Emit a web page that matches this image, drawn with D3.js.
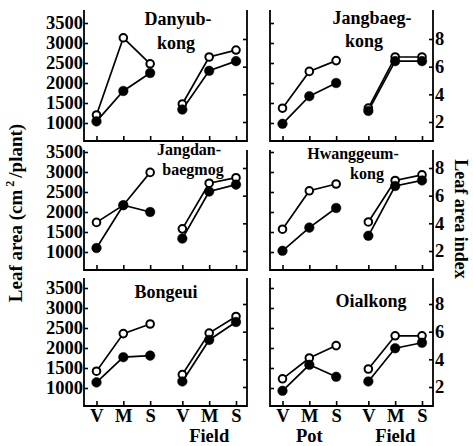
<!DOCTYPE html>
<html>
<head>
  <meta charset="utf-8">
  <title>Leaf area by growth stage</title>
  <script src="https://d3js.org/d3.v7.min.js"></script>
  <style>
    body { margin: 0; background: #fff; }
    text { font-family: "Liberation Serif", "Times New Roman", serif; font-weight: bold; fill: #000; }
  </style>
</head>
<body>
<script>
// six varieties, each with Pot (cm2/plant) and Field (LAI) at V, M, S
var titleLines = [["Danyub-", "kong"], ["Jangbaeg-", "kong"], ["Jangdan-", "baegmog"],
                  ["Hwanggeum-", "kong"], ["Bongeui"], ["Oialkong"]];
var stages = ["V", "M", "S"];
var groups = ["Pot", "Field"];

var potOpen   = [[1200, 3130, 2480], [1370, 2290, 2560], [1740, 2170, 2990],
                 [1570, 2530, 2700], [1420, 2360, 2600], [1230, 1750, 2060]];
var potFilled = [[1040, 1800, 2250], [980, 1670, 2000], [1100, 2170, 2000],
                 [1030, 1610, 2100], [1140, 1770, 1810], [930, 1580, 1280]];
var fieldOpen   = [[3.3, 6.7, 7.2], [3.0, 6.7, 6.7], [3.6, 6.9, 7.3],
                   [4.1, 7.1, 7.5], [2.9, 5.9, 7.1], [3.3, 5.7, 5.7]];
var fieldFilled = [[2.9, 5.7, 6.4], [2.8, 6.4, 6.4], [2.9, 6.3, 6.8],
                   [3.1, 6.7, 7.1], [2.4, 5.4, 6.7], [2.4, 4.8, 5.2]];

var areaTicks = [1000, 1500, 2000, 2500, 3000, 3500];
var laiTicks = [2, 4, 6, 8];

var width = 473, height = 446;
var colLeft = [84, 270], panelW = 163;
var rowTop = [10, 150, 278], rowBottom = [141, 270, 406];
var groupGap = 0.2;

// title line positions inside each panel: [x, baseline] per line, plus font size
var titlePos = [[[94, 25], [92, 49]], [[102, 24], [94, 47]], [[105, 155], [109, 175]],
                [[83, 159], [97, 179]], [[82, 298]], [[101, 307]]];
var titleSize = [18, 18, 16, 16, 18, 18];

var svg = d3.select('body').append('svg').attr('width', width).attr('height', height);

var x = d3.scaleLinear().domain([0, 5.2]).range([12.5, 152]);
function xPos(g, s) { return x(g * (stages.length + groupGap) + s); }

titleLines.forEach(function(lines, p) {
  var col = p % 2, row = Math.floor(p / 2);
  var x0 = colLeft[col], top = rowTop[row], bot = rowBottom[row];
  var yArea = d3.scaleLinear().domain([1000, 3500]).range([bot - 18, bot - 118]);
  var yLai = d3.scaleLinear().domain([2, 8]).range([bot - 19, bot - 102]);

  var g = svg.append('g').attr('transform', 'translate(' + x0 + ',0)');

  // frame: left, bottom, right (no top)
  g.append('path')
    .attr('d', 'M0,' + top + 'V' + bot + 'H' + panelW + 'V' + top)
    .attr('fill', 'none').attr('stroke', '#000').attr('stroke-width', 1.8);

  var la = g.append('g').call(d3.axisLeft(yArea).tickValues(areaTicks).tickSize(-4).tickPadding(1)
    .tickFormat(col === 0 ? d3.format('d') : function() { return ''; }));
  la.select('.domain').remove();

  var ra = g.append('g').attr('transform', 'translate(' + panelW + ',0)')
    .call(d3.axisRight(yLai).tickValues(laiTicks).tickSize(-4).tickPadding(2)
    .tickFormat(col === 1 ? d3.format('d') : function() { return ''; }));
  ra.select('.domain').remove();

  var tickVals = [], tickLab = [];
  groups.forEach(function(gr, gi) {
    stages.forEach(function(s, si) { tickVals.push(gi * (stages.length + groupGap) + si); tickLab.push(s); });
  });
  var ba = g.append('g').attr('transform', 'translate(0,' + bot + ')')
    .call(d3.axisBottom(x).tickValues(tickVals).tickSize(-5).tickPadding(3)
    .tickFormat(function(d, i) { return row === 2 ? tickLab[i] : ''; }));
  ba.select('.domain').remove();

  svg.selectAll('.tick line').attr('stroke', '#000').attr('stroke-width', 1.6);
  g.selectAll('.tick text').attr('font-size', 18.5).attr('font-family', null);

  // series
  var series = [
    { vals: potOpen[p], g: 0, y: yArea, open: true },
    { vals: potFilled[p], g: 0, y: yArea, open: false },
    { vals: fieldOpen[p], g: 1, y: yLai, open: true },
    { vals: fieldFilled[p], g: 1, y: yLai, open: false }
  ];
  series.forEach(function(sr) {
    var line = d3.line().x(function(d, i) { return xPos(sr.g, i); }).y(function(d) { return sr.y(d); });
    g.append('path').datum(sr.vals).attr('d', line)
      .attr('fill', 'none').attr('stroke', '#000').attr('stroke-width', 1.7);
  });
  series.forEach(function(sr) {
    g.selectAll(null).data(sr.vals).enter().append('circle')
      .attr('cx', function(d, i) { return xPos(sr.g, i); })
      .attr('cy', function(d) { return sr.y(d); })
      .attr('r', sr.open ? 3.8 : 4.8)
      .attr('fill', sr.open ? '#fff' : '#000')
      .attr('stroke', '#000').attr('stroke-width', sr.open ? 2 : 0.5);
  });

  // panel title
  lines.forEach(function(l, li) {
    g.append('text').attr('text-anchor', 'middle').attr('font-size', titleSize[p])
      .attr('x', titlePos[p][li][0]).attr('y', titlePos[p][li][1]).text(l);
  });
});

// group labels under the bottom row
[[0, 1], [1, 0], [1, 1]].forEach(function(c) {
  svg.append('text').attr('text-anchor', 'middle').attr('font-size', 18.5)
    .attr('x', colLeft[c[0]] + xPos(c[1], 1)).attr('y', 442).text(groups[c[1]]);
});

// axis titles
var lt = svg.append('text').attr('font-size', 19).attr('text-anchor', 'middle')
  .attr('transform', 'translate(22,213) rotate(-90)');
lt.append('tspan').text('Leaf area (cm');
lt.append('tspan').attr('font-size', 12).attr('dy', -8).text(' 2 ');
lt.append('tspan').attr('dy', 8).text('/plant)');

svg.append('text').attr('font-size', 18).attr('text-anchor', 'middle')
  .attr('transform', 'translate(455,219) rotate(90)').text('Leaf area index');
</script>
</body>
</html>
